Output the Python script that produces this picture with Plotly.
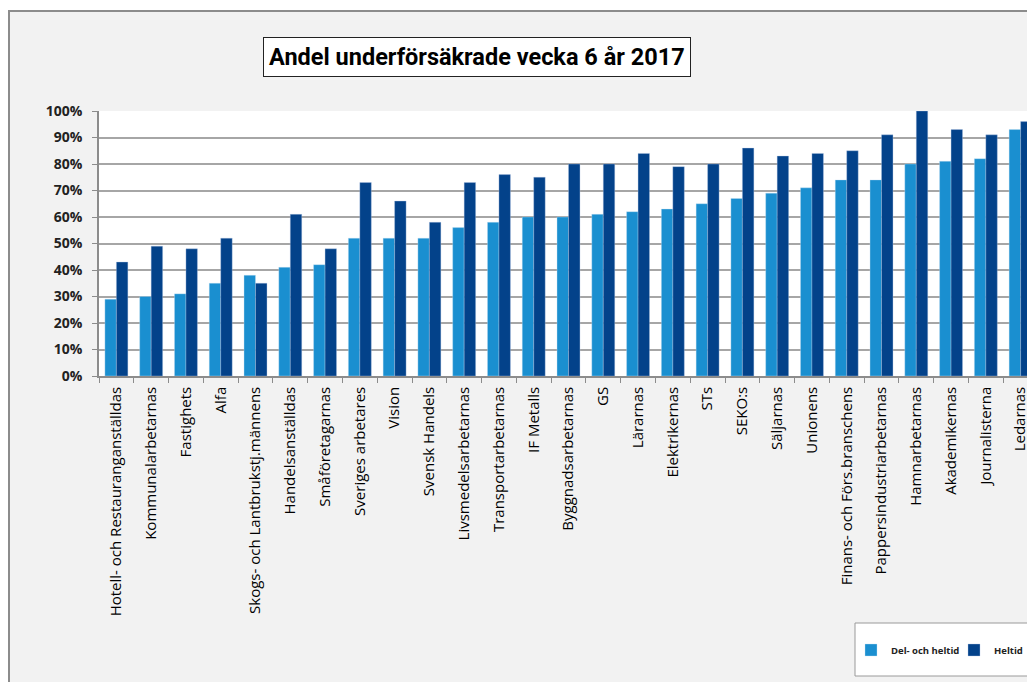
import plotly.graph_objects as go

categories = [
    "Hotell- och Restauranganställdas", "Kommunalarbetarnas", "Fastighets", "Alfa",
    "Skogs- och Lantbrukstj.männens", "Handelsanställdas", "Småföretagarnas",
    "Sveriges arbetares", "Vision", "Svensk Handels", "Livsmedelsarbetarnas",
    "Transportarbetarnas", "IF Metalls", "Byggnadsarbetarnas", "GS", "Lärarnas",
    "Elektrikernas", "STs", "SEKO:s", "Säljarnas", "Unionens",
    "Finans- och Förs.branschens", "Pappersindustriarbetarnas", "Hamnarbetarnas",
    "Akademikernas", "Journalisterna", "Ledarnas",
]
del_och_heltid = [29, 30, 31, 35, 38, 41, 42, 52, 52, 52, 56, 58, 60, 60, 61, 62,
                  63, 65, 67, 69, 71, 74, 74, 80, 81, 82, 93]
heltid = [43, 49, 48, 52, 35, 61, 48, 73, 66, 58, 73, 76, 75, 80, 80, 84,
          79, 80, 86, 83, 84, 85, 91, 100, 93, 91, 96]
series_names = ["Del- och heltid", "Heltid"]
title_text = "Andel underförsäkrade vecka 6 år 2017"

# page offset (body margin) of the figure in the screenshot
OFF = 8
W, H = 1035, 682
# plot area in screen pixels
L_s, R_s, T_s, B_s = 99, 1038, 111, 376
L, R_edge, T, B = L_s - OFF, R_s - OFF, T_s - OFF, B_s - OFF
pw, ph = R_edge - L, B - T


def px_x(p):  # screen px -> paper fraction
    return (p - OFF - L) / pw


def px_y(p):
    return (B - (p - OFF)) / ph


fig = go.Figure()
fig.add_trace(go.Bar(
    x=categories, y=[v / 100 for v in del_och_heltid], name=series_names[0],
    marker=dict(color="#1a8fd0", line=dict(color="rgba(200,225,245,0.6)", width=0.6)),
))
fig.add_trace(go.Bar(
    x=categories, y=[v / 100 for v in heltid], name=series_names[1],
    marker=dict(color="#03428a", line=dict(color="rgba(180,200,230,0.6)", width=0.6)),
))

right_px = W + OFF  # paper right edge in screen px
shapes = [
    dict(type="rect", xref="paper", yref="paper", x0=px_x(OFF), x1=px_x(right_px), y0=px_y(10), y1=px_y(OFF),
         fillcolor="white", line=dict(width=0), layer="above"),
    dict(type="line", xref="paper", yref="paper", x0=px_x(9), x1=px_x(9), y0=px_y(10), y1=px_y(H + OFF),
         line=dict(color="#8c8c8c", width=2), layer="above"),
    dict(type="line", xref="paper", yref="paper", x0=px_x(OFF), x1=px_x(right_px), y0=px_y(11), y1=px_y(11),
         line=dict(color="#8c8c8c", width=2), layer="above"),
    dict(type="rect", xref="paper", yref="paper", x0=px_x(855), x1=px_x(1033), y0=px_y(676), y1=px_y(623),
         fillcolor="white", line=dict(color="#9a9a9a", width=1), layer="below"),
]

fig.update_layout(
    width=W, height=H,
    autosize=False,
    margin=dict(l=L, r=W - R_edge, t=T, b=H - B, pad=0, autoexpand=False),
    paper_bgcolor="#f2f2f2",
    plot_bgcolor="white",
    barmode="group",
    bargap=0.34,
    bargroupgap=0,
    showlegend=True,
    legend=dict(
        orientation="h", x=px_x(851), y=px_y(650), xanchor="left", yanchor="middle",
        bgcolor="rgba(0,0,0,0)", borderwidth=0,
        font=dict(family="Open Sans, Arial, sans-serif", size=9.5, color="#222", weight="bold"),
        itemwidth=30, entrywidth=58,
    ),
    shapes=shapes,
    annotations=[dict(
        text=title_text, xref="paper", yref="paper", x=px_x(476.5), y=px_y(57),
        xanchor="center", yanchor="middle", showarrow=False,
        font=dict(family="Roboto, Arial, sans-serif", size=23.5, color="black", weight="bold"),
        bgcolor="white", bordercolor="#222", borderwidth=1, borderpad=5,
    )],
    font=dict(family="Open Sans, Arial, sans-serif"),
)

fig.update_xaxes(
    range=[-0.5, 26.5], tickangle=-90,
    tickfont=dict(family="Open Sans, Arial, sans-serif", size=15, color="black"),
    showline=True, linecolor="#8c8c8c", linewidth=1.5,
    ticks="outside", tickson="boundaries", ticklen=5, tickcolor="#8c8c8c", tickwidth=1,
    ticklabelstandoff=3,
    showgrid=False, automargin=False,
)
fig.update_yaxes(
    range=[0, 1], tickvals=[i / 10 for i in range(11)], tickformat=".0%",
    tickfont=dict(family="Open Sans, Arial, sans-serif", size=14, color="#222", weight="bold"),
    showline=True, linecolor="#8c8c8c", linewidth=1.5,
    ticks="outside", ticklen=5, tickcolor="#8c8c8c",
    ticklabelstandoff=7,
    showgrid=True, gridcolor="#a6a6a6", gridwidth=1.5,
    zeroline=False, automargin=False,
)

fig.write_html(
    "out.html",
    post_script="document.documentElement.style.overflow='hidden';document.body.style.overflow='hidden';",
)
